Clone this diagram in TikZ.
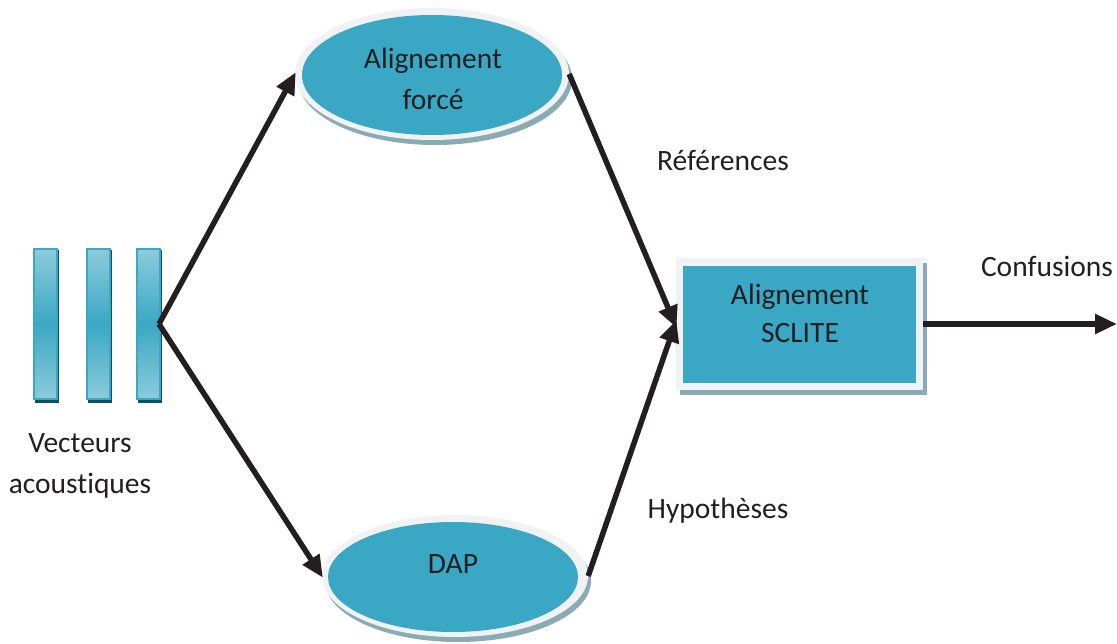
\documentclass[tikz,border=0pt]{standalone}
\usepackage{fontspec}
\setmainfont{Carlito}[Ligatures=NoCommon]
\usetikzlibrary{shapes.geometric,arrows.meta}
\definecolor{teal1}{HTML}{3AA8C4}
\definecolor{light1}{HTML}{8CCBDB}
\definecolor{rim}{HTML}{F0F2F4}
\definecolor{shad}{HTML}{8AABB3}
\definecolor{barshad}{HTML}{0D5060}
\definecolor{ink}{HTML}{231F20}
\tikzset{
  lbl/.style={text=ink, font=\fontsize{29.5}{41}\selectfont, inner sep=0pt, align=center},
  arr/.style={draw=ink, line width=5.5pt, -{Triangle[length=22pt,width=19pt]}, shorten >=-2pt},
  barbox/.style={draw=teal1, line width=2pt, minimum width=23pt, minimum height=150pt, inner sep=0pt,
    top color=light1, bottom color=light1, middle color=teal1},
  ell/.style={ellipse, fill=rim, inner sep=0pt},
}
\begin{document}
\begin{tikzpicture}[x=1pt,y=-1pt]
\useasboundingbox (0,0) rectangle (1117,644);
% bars
\foreach \n/\x in {1/45, 2/98, 3/148}{
  \fill[barshad] (\x-10,250) rectangle (\x+14,403);
  \node[barbox] (bar\n) at (\x,324) {};
}
% top ellipse
\fill[shad] (435,79) ellipse [x radius=137, y radius=66];
\node[ell, minimum width=274pt, minimum height=132pt] (af) at (432,74) {};
\fill[teal1] (432,75) ellipse [x radius=130, y radius=60];
\node[lbl] (aft) at (433,79) {Alignement\\forcé};
% bottom ellipse
\fill[shad] (458,581) ellipse [x radius=133, y radius=61];
\node[ell, minimum width=266pt, minimum height=122pt] (dap) at (455,576) {};
\fill[teal1] (453,577) ellipse [x radius=125, y radius=55];
\node[lbl] (dapt) at (453,564) {DAP};
% rectangle
\fill[shad] (680,263) rectangle (927,395);
\node[fill=rim, minimum width=247pt, minimum height=132pt, inner sep=0pt] (sc) at (799.5,324) {};
\fill[teal1] (683,266) rectangle (916,383);
\node[lbl, font=\fontsize{29.5}{38}\selectfont] (sct) at (800,313) {Alignement\\SCLITE};
% labels
\node[lbl] (ref) at (723,160) {Références};
\node[lbl] (hyp) at (718,511) {Hypothèses};
\node[lbl] (conf) at (1047,266) {Confusions};
\node[lbl] (vec) at (80,466) {Vecteurs\\acoustiques};
% arrows
\coordinate (src) at (159,324);
\coordinate (out) at (1117,324);
\draw[arr] (src) -- (af.west);
\draw[arr] (src) -- (dap.west);
\draw[arr] (af.east) -- ([yshift=-2pt]sc.west);
\draw[arr] (dap.east) -- ([yshift=2pt]sc.west);
\draw[arr, shorten >=0pt] (sc.east) -- (out);
\end{tikzpicture}
\end{document}
